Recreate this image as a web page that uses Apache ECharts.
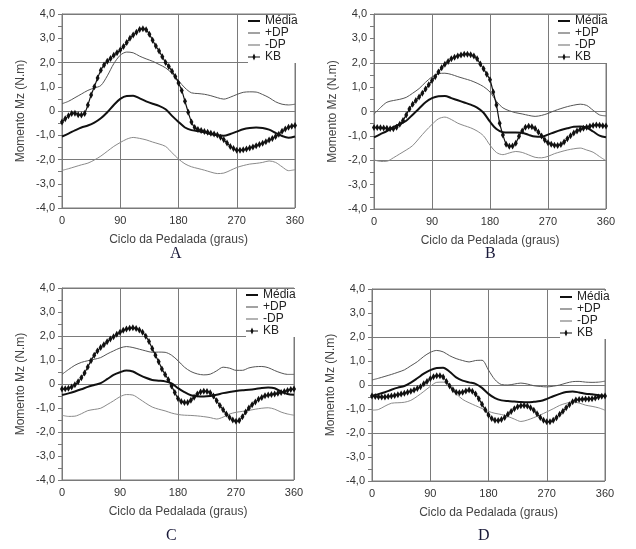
<!DOCTYPE html>
<html><head><meta charset="utf-8">
<script src="https://cdn.jsdelivr.net/npm/echarts@6/dist/echarts.min.js"></script>
<style>html,body{margin:0;padding:0;background:#fff}#c{width:636px;height:549px}</style>
</head><body><div id="c"></div>
<script>
// Panel A
const aMedia = [-1.05,-0.93,-0.8,-0.68,-0.6,-0.48,-0.3,-0.05,0.25,0.5,0.62,0.63,0.52,0.4,0.3,0.21,0.07,-0.2,-0.45,-0.68,-0.79,-0.83,-0.88,-0.95,-1.0,-1.02,-0.95,-0.85,-0.75,-0.7,-0.68,-0.7,-0.77,-0.9,-1.03,-1.1,-1.05];
const aPlus = [0.3,0.4,0.55,0.7,0.85,0.95,1.05,1.45,1.95,2.3,2.43,2.4,2.26,2.15,2.05,1.92,1.78,1.55,1.25,0.95,0.75,0.72,0.69,0.63,0.55,0.49,0.57,0.68,0.77,0.79,0.78,0.68,0.55,0.38,0.28,0.25,0.28];
const aMinus = [-2.45,-2.38,-2.3,-2.22,-2.15,-2.02,-1.86,-1.66,-1.46,-1.3,-1.16,-1.09,-1.13,-1.19,-1.28,-1.36,-1.46,-1.72,-1.98,-2.18,-2.3,-2.37,-2.44,-2.52,-2.58,-2.56,-2.45,-2.33,-2.25,-2.19,-2.16,-2.12,-2.06,-2.12,-2.3,-2.46,-2.42];
const aKB = [-0.45,-0.32,-0.2,-0.1,-0.09,-0.15,-0.17,-0.1,0.25,0.66,1.0,1.36,1.68,1.9,2.05,2.17,2.3,2.4,2.52,2.66,2.82,3.0,3.13,3.25,3.36,3.39,3.35,3.17,2.92,2.68,2.47,2.24,2.0,1.83,1.64,1.42,1.15,0.85,0.4,-0.05,-0.45,-0.68,-0.76,-0.8,-0.85,-0.88,-0.92,-0.95,-0.99,-1.08,-1.19,-1.32,-1.46,-1.55,-1.62,-1.62,-1.6,-1.57,-1.53,-1.48,-1.43,-1.38,-1.33,-1.27,-1.2,-1.13,-1.05,-0.96,-0.84,-0.74,-0.67,-0.63,-0.6];
// Panel B
const bMedia = [-1.06,-0.93,-0.8,-0.64,-0.52,-0.38,-0.13,0.12,0.38,0.55,0.63,0.64,0.55,0.46,0.37,0.28,0.16,-0.05,-0.42,-0.72,-0.85,-0.86,-0.86,-0.87,-0.96,-1.03,-1.04,-0.95,-0.85,-0.76,-0.69,-0.63,-0.62,-0.66,-0.82,-0.99,-1.06];
const bPlus = [-0.11,0.16,0.38,0.45,0.5,0.58,0.75,0.94,1.2,1.42,1.55,1.57,1.52,1.43,1.35,1.27,1.16,1.02,0.8,0.42,0.15,0.03,-0.05,-0.1,-0.16,-0.2,-0.16,-0.08,0.03,0.12,0.2,0.26,0.3,0.25,0.05,-0.14,-0.18];
const bMinus = [-1.98,-2.05,-2.04,-1.9,-1.74,-1.58,-1.4,-1.1,-0.8,-0.53,-0.3,-0.23,-0.33,-0.48,-0.58,-0.67,-0.8,-1.0,-1.38,-1.68,-1.77,-1.7,-1.64,-1.68,-1.78,-1.88,-1.9,-1.84,-1.73,-1.65,-1.58,-1.53,-1.5,-1.58,-1.67,-1.85,-2.02];
const bKB = [-0.66,-0.66,-0.67,-0.68,-0.69,-0.71,-0.71,-0.65,-0.52,-0.37,-0.14,0.1,0.3,0.45,0.6,0.75,0.92,1.1,1.27,1.43,1.62,1.8,1.94,2.05,2.16,2.23,2.28,2.32,2.35,2.35,2.33,2.28,2.16,1.95,1.75,1.53,1.3,0.8,0.27,-0.48,-0.96,-1.34,-1.43,-1.42,-1.3,-1.02,-0.8,-0.65,-0.61,-0.63,-0.7,-0.84,-1.0,-1.17,-1.28,-1.34,-1.38,-1.39,-1.35,-1.25,-1.12,-0.99,-0.88,-0.8,-0.74,-0.69,-0.65,-0.6,-0.57,-0.55,-0.56,-0.58,-0.59];
// Panel C
const cMedia = [-0.46,-0.39,-0.31,-0.22,-0.12,-0.04,0.04,0.2,0.38,0.49,0.56,0.52,0.38,0.26,0.17,0.14,0.11,0.03,-0.17,-0.34,-0.47,-0.51,-0.52,-0.5,-0.45,-0.38,-0.33,-0.29,-0.26,-0.24,-0.21,-0.17,-0.15,-0.18,-0.32,-0.42,-0.45];
const cPlus = [0.4,0.6,0.78,0.9,0.97,1.03,1.1,1.25,1.38,1.5,1.56,1.52,1.45,1.38,1.32,1.33,1.32,1.2,0.97,0.7,0.52,0.42,0.38,0.41,0.55,0.7,0.66,0.57,0.57,0.67,0.72,0.73,0.68,0.56,0.46,0.4,0.4];
const cMinus = [-1.3,-1.35,-1.34,-1.24,-1.11,-1.06,-1.01,-0.86,-0.7,-0.53,-0.44,-0.46,-0.62,-0.8,-0.96,-1.05,-1.12,-1.21,-1.27,-1.3,-1.31,-1.33,-1.36,-1.4,-1.46,-1.38,-1.25,-1.18,-1.14,-1.1,-1.05,-1.01,-0.99,-1.05,-1.17,-1.25,-1.3];
const cKB = [-0.21,-0.2,-0.18,-0.12,-0.03,0.09,0.26,0.46,0.71,0.97,1.2,1.38,1.52,1.64,1.76,1.87,1.97,2.07,2.16,2.24,2.29,2.32,2.34,2.31,2.25,2.16,1.99,1.77,1.48,1.2,0.93,0.63,0.4,0.18,-0.08,-0.35,-0.6,-0.73,-0.77,-0.77,-0.68,-0.55,-0.42,-0.33,-0.3,-0.31,-0.36,-0.5,-0.7,-0.9,-1.07,-1.25,-1.4,-1.5,-1.55,-1.52,-1.36,-1.17,-1.0,-0.86,-0.75,-0.64,-0.56,-0.49,-0.46,-0.44,-0.42,-0.39,-0.35,-0.31,-0.27,-0.23,-0.21];
// Panel D
const dMedia = [-0.45,-0.38,-0.3,-0.2,-0.11,-0.04,0.1,0.28,0.47,0.62,0.71,0.72,0.55,0.32,0.18,0.11,0.05,-0.12,-0.37,-0.55,-0.64,-0.67,-0.69,-0.71,-0.72,-0.7,-0.67,-0.58,-0.47,-0.37,-0.29,-0.27,-0.31,-0.36,-0.39,-0.43,-0.46];
const dPlus = [0.21,0.28,0.36,0.44,0.53,0.63,0.8,0.97,1.19,1.36,1.44,1.38,1.22,1.1,1.02,0.96,1.02,1.03,0.62,0.22,0.02,0.0,0.04,0.08,0.04,-0.03,-0.06,-0.08,-0.05,0.0,0.08,0.14,0.15,0.12,0.11,0.12,0.16];
const dMinus = [-1.05,-1.02,-0.88,-0.76,-0.74,-0.72,-0.64,-0.47,-0.27,-0.06,0.11,0.12,-0.08,-0.36,-0.6,-0.74,-0.86,-0.98,-1.1,-1.18,-1.23,-1.31,-1.42,-1.52,-1.46,-1.36,-1.25,-1.12,-0.99,-0.85,-0.76,-0.71,-0.75,-0.84,-0.89,-0.95,-1.05];
const dKB = [-0.46,-0.48,-0.49,-0.5,-0.5,-0.48,-0.46,-0.44,-0.41,-0.38,-0.34,-0.3,-0.26,-0.21,-0.15,-0.07,0.05,0.15,0.26,0.34,0.39,0.39,0.33,0.15,-0.04,-0.2,-0.3,-0.32,-0.3,-0.25,-0.21,-0.26,-0.37,-0.57,-0.8,-1.03,-1.25,-1.4,-1.47,-1.48,-1.44,-1.35,-1.22,-1.1,-0.99,-0.91,-0.86,-0.85,-0.88,-0.95,-1.05,-1.2,-1.35,-1.47,-1.53,-1.53,-1.47,-1.36,-1.22,-1.09,-0.95,-0.82,-0.7,-0.63,-0.6,-0.59,-0.58,-0.58,-0.57,-0.54,-0.5,-0.47,-0.46];

const xTicks = [0, 90, 180, 270, 360];
const seriesNames = ['Média', '+DP', '-DP', 'KB'];
const panelLetters = ['A', 'B', 'C', 'D'];
const xTitle = 'Ciclo da Pedalada (graus)';
const yTitle = 'Momento Mz (N.m)';

const deg10 = []; for (let d = 0; d <= 360; d += 10) deg10.push(d);
const deg5 = []; for (let d = 0; d <= 360; d += 5) deg5.push(d);
const pairs = (xs, ys) => xs.map((x, i) => [x, ys[i]]);

const panels = [
  {m: aMedia, p: aPlus, n: aMinus, k: aKB, grid: {left: 62, top: 14, width: 233, height: 194}, legend: {left: 248, top: 15}, letter: [176, 255]},
  {m: bMedia, p: bPlus, n: bMinus, k: bKB, grid: {left: 374, top: 14, width: 232, height: 195}, legend: {left: 558, top: 15}, letter: [491, 255]},
  {m: cMedia, p: cPlus, n: cMinus, k: cKB, grid: {left: 62, top: 288, width: 232, height: 192}, legend: {left: 246, top: 289}, letter: [172, 537]},
  {m: dMedia, p: dPlus, n: dMinus, k: dKB, grid: {left: 372, top: 289, width: 233, height: 192}, legend: {left: 560, top: 291}, letter: [484, 537]}
];

// legend icons: bounding guards (M0,0 / M12,8) keep the stroke centred
const iconThick = 'path://M0,0M0,3H12V5H0ZM12,8';
const iconThin = 'path://M0,0M0,3.5H12V4.5H0ZM12,8';
const iconKB = 'path://M0,0M0,3.5H12V4.5H0ZM6,0.5L7.6,4L6,7.5L4.4,4ZM12,8';

const FONT = '"Liberation Sans", Arial, sans-serif';
const gridColor = '#7a7a7a';
const grids = [], xAxes = [], yAxes = [], series = [], legends = [], graphics = [];

panels.forEach((pn, i) => {
  grids.push(Object.assign({show: true, borderColor: gridColor, borderWidth: 1, containLabel: false}, pn.grid));
  xAxes.push({
    type: 'value', gridIndex: i, min: 0, max: 360, interval: 90,
    name: xTitle, nameLocation: 'middle', nameGap: 26,
    nameTextStyle: {fontFamily: FONT, fontSize: 12, color: '#444'},
    axisLine: {show: true, lineStyle: {color: gridColor}},
    axisTick: {show: true, length: 3, lineStyle: {color: gridColor}},
    axisLabel: {fontFamily: FONT, fontSize: 11, color: '#333', margin: 7,
      formatter: v => xTicks.includes(v) ? String(v) : ''},
    splitLine: {show: true, lineStyle: {color: gridColor, width: 1}}
  });
  yAxes.push({
    type: 'value', gridIndex: i, min: -4, max: 4, interval: 1,
    name: yTitle, nameLocation: 'middle', nameGap: 35, nameRotate: 90,
    nameTextStyle: {fontFamily: FONT, fontSize: 12, color: '#444'},
    axisLine: {show: true, lineStyle: {color: gridColor}},
    axisTick: {show: true, length: 4, lineStyle: {color: gridColor}},
    minorTick: {show: true, splitNumber: 2, length: 4, lineStyle: {color: gridColor}},
    axisLabel: {fontFamily: FONT, fontSize: 11, color: '#333', margin: 7,
      formatter: v => v === 0 ? '0' : v.toFixed(1).replace('.', ',')},
    splitLine: {show: true, lineStyle: {color: [gridColor, 'rgba(0,0,0,0)'], width: 1}}
  });
  const common = {type: 'line', xAxisIndex: i, yAxisIndex: i, smooth: 0.3, showSymbol: false, symbol: 'none', animation: false};
  series.push(Object.assign({}, common, {name: 'Média', data: pairs(deg10, pn.m), lineStyle: {color: '#111', width: 2}, itemStyle: {color: '#111'}, z: 4}));
  series.push(Object.assign({}, common, {name: '+DP', data: pairs(deg10, pn.p), lineStyle: {color: '#555', width: 1}, itemStyle: {color: '#555'}, z: 2}));
  series.push(Object.assign({}, common, {name: '-DP', data: pairs(deg10, pn.n), lineStyle: {color: '#8a8a8a', width: 1}, itemStyle: {color: '#8a8a8a'}, z: 2}));
  series.push(Object.assign({}, common, {name: 'KB', data: pairs(deg5, pn.k), showSymbol: true, symbol: 'diamond', symbolSize: [4, 7], smooth: 0.2,
    lineStyle: {color: '#111', width: 1.2}, itemStyle: {color: '#111'}, z: 5}));
  legends.push({
    orient: 'vertical', left: pn.legend.left, top: pn.legend.top, padding: 0,
    itemWidth: 12, itemHeight: 8, itemGap: 0, itemTextGap: 3,
    backgroundColor: '#fff',
    textStyle: {fontFamily: FONT, fontSize: 12, lineHeight: 10, color: '#222', padding: 0},
    data: [
      {name: 'Média', icon: iconThick, itemStyle: {color: '#111'}},
      {name: '+DP', icon: iconThin, itemStyle: {color: '#444'}},
      {name: '-DP', icon: iconThin, itemStyle: {color: '#666'}},
      {name: 'KB', icon: iconKB, itemStyle: {color: '#111'}}
    ],
    selectedMode: false
  });
  graphics.push({type: 'text', left: pn.letter[0] - 6, top: pn.letter[1] - 9,
    style: {text: panelLetters[i], font: '16px "Liberation Serif", "Times New Roman", serif', fill: '#1a1a3a'}});
});

const chart = echarts.init(document.getElementById('c'), null, {renderer: 'canvas'});
chart.setOption({
  animation: false,
  backgroundColor: '#fff',
  grid: grids, xAxis: xAxes, yAxis: yAxes, series: series, legend: legends, graphic: graphics
});
</script></body></html>
